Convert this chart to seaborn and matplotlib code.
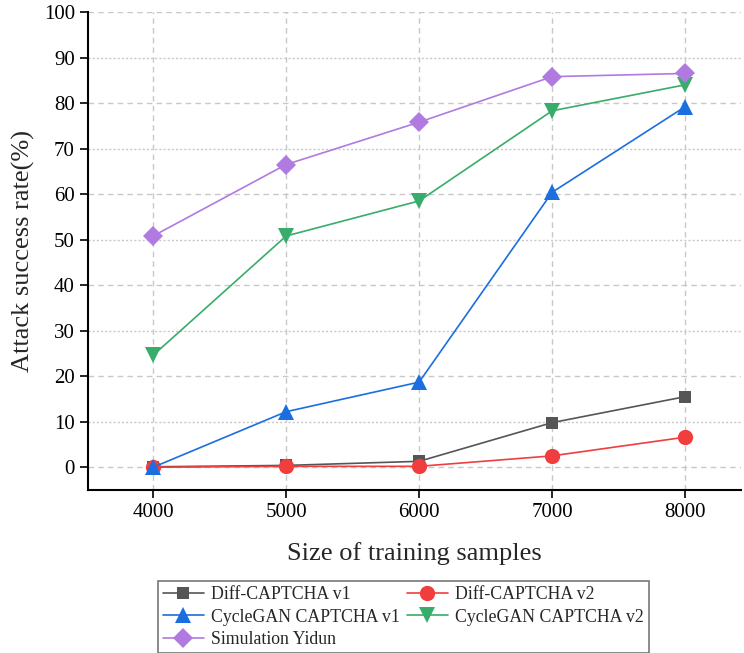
import numpy as np
import pandas as pd
import matplotlib
matplotlib.use("Agg")
import matplotlib.pyplot as plt
import seaborn as sns

samples = [4000, 5000, 6000, 7000, 8000]
diff_v1 = [0.1, 0.4, 1.3, 9.8, 15.5]
diff_v2 = [0.0, 0.2, 0.2, 2.5, 6.6]
cyclegan_v1 = [0.0, 12.2, 18.7, 60.4, 79.2]
cyclegan_v2 = [24.6, 50.8, 58.5, 78.3, 84.0]
sim_yidun = [50.8, 66.5, 75.8, 85.8, 86.5]

series_names = ["Diff-CAPTCHA v1", "Diff-CAPTCHA v2", "CycleGAN CAPTCHA v1",
                "CycleGAN CAPTCHA v2", "Simulation Yidun"]
series_values = [diff_v1, diff_v2, cyclegan_v1, cyclegan_v2, sim_yidun]
colors = ["#555555", "#f03e3e", "#1a6ee0", "#38ac6a", "#b07ae0"]
markers = ["s", "o", "^", "v", "D"]
msizes = [9, 11, 12, 12, 10]

yticks = list(range(0, 101, 10))
xticks = samples

sns.set_theme(style="white")
plt.rcParams["font.family"] = ["Liberation Serif", "DejaVu Serif"]

df = pd.DataFrame({
    "x": np.tile(samples, len(series_names)),
    "y": np.concatenate(series_values),
    "series": np.repeat(series_names, len(samples)),
})

fig = plt.figure(figsize=(7.44, 6.53), dpi=100)
ax = fig.add_axes([88 / 744, 1 - 490 / 653, (741 - 88) / 744, (490 - 12) / 653])

for name, col, mk, ms in zip(series_names, colors, markers, msizes):
    sub = df[df["series"] == name]
    sns.lineplot(data=sub, x="x", y="y", ax=ax, color=col, marker=mk,
                 markersize=ms, markeredgewidth=0, linewidth=1.2,
                 label=name, legend=False)

ax.set_xlim(3510, 8420)
ax.set_ylim(-5, 100)
ax.set_xticks(xticks)
ax.set_yticks(yticks)
ax.tick_params(axis="both", direction="out", length=6, width=1.2,
               labelsize=15, colors="black", bottom=True, left=True)
for s in ["top", "right"]:
    ax.spines[s].set_visible(False)
for s in ["left", "bottom"]:
    ax.spines[s].set_color("black")
    ax.spines[s].set_linewidth(1.5)

ax.grid(True, axis="x", color="#c8c8c8", linestyle=(0, (4, 3)), linewidth=1)
ax.grid(True, axis="y", color="#c8c8c8", linewidth=1)
for i, gl in enumerate(ax.yaxis.get_gridlines()):
    if yticks[i] % 20 == 0:
        gl.set_linestyle((0, (4, 3)))
    else:
        gl.set_linestyle((0, (1.5, 1.5)))
ax.set_axisbelow(True)

ax.set_xlabel("Size of training samples", fontsize=19, labelpad=14)
ax.set_ylabel("Attack success rate(%)", fontsize=19, labelpad=6)

handles, labels = ax.get_legend_handles_labels()
order = [0, 2, 4, 1, 3]
leg = fig.legend([handles[i] for i in order], [labels[i] for i in order],
                 loc="upper center", ncol=2,
                 bbox_to_anchor=(0.542, 1 - 572 / 653), fontsize=12.8,
                 frameon=True, fancybox=False, edgecolor="#555555",
                 handlelength=2.3, columnspacing=0.4, handletextpad=0.4,
                 labelspacing=0.3, borderpad=0.3, markerscale=1.0)
leg.get_frame().set_linewidth(1.2)

fig.savefig("out.png", dpi=100)
